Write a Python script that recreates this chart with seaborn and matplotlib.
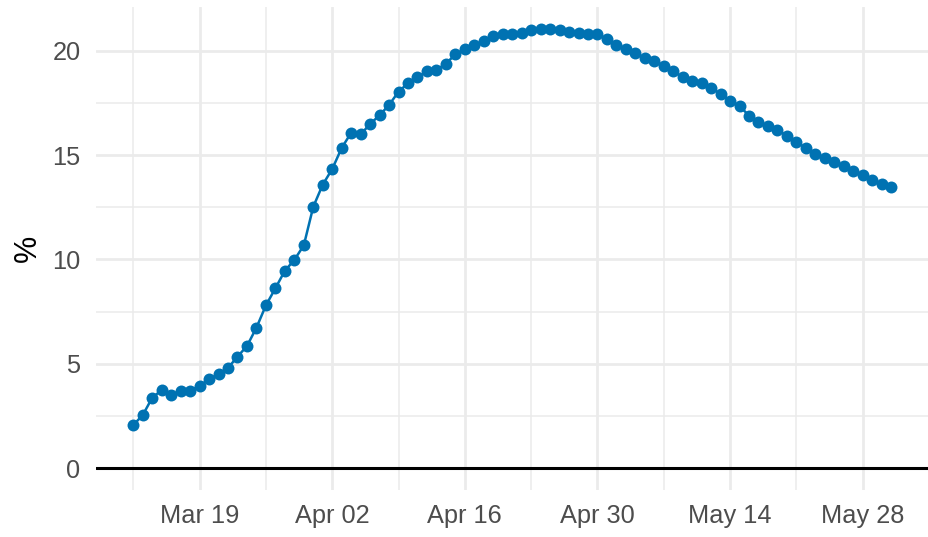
import pandas as pd
import seaborn as sns
import matplotlib.pyplot as plt
import matplotlib.dates as mdates
from matplotlib.ticker import MultipleLocator

# daily share (%), Mar 12 - May 31
start_date = "2020-03-12"
end_date = "2020-05-31"
mar_values = [2.06, 2.54, 3.37, 3.74, 3.49, 3.71, 3.71, 3.95, 4.25, 4.51,
              4.80, 5.34, 5.85, 6.73, 7.80, 8.62, 9.46, 9.98, 10.68, 12.53]
apr_values = [13.59, 14.34, 15.35, 16.08, 16.00, 16.50, 16.92, 17.41, 18.05, 18.45,
              18.73, 19.04, 19.09, 19.39, 19.84, 20.08, 20.27, 20.49, 20.72, 20.80,
              20.82, 20.88, 21.01, 21.06, 21.07, 21.02, 20.91, 20.85, 20.80, 20.80]
may_values = [20.57, 20.29, 20.08, 19.89, 19.66, 19.54, 19.28, 19.03, 18.75, 18.58,
              18.45, 18.24, 17.94, 17.62, 17.36, 16.90, 16.59, 16.42, 16.21, 15.94,
              15.62, 15.36, 15.04, 14.85, 14.66, 14.48, 14.24, 14.04, 13.81, 13.62, 13.48]
y_ticks = [0, 5, 10, 15, 20]
x_tick_start = "2020-03-19"

df = pd.DataFrame({
    "date": pd.date_range(start_date, end_date),
    "value": mar_values + apr_values + may_values,
})

sns.set_theme(style="white")
plt.rcParams['font.family'] = ['Liberation Sans', 'DejaVu Sans']

fig = plt.figure(figsize=(9.29, 5.37), dpi=100)
ax = fig.add_axes([95.7 / 929, 47 / 537, 833.3 / 929, 483 / 537])

grid_col = "#ebebeb"
ax.grid(which="major", color=grid_col, linewidth=2.0, zorder=0)
ax.grid(which="minor", color=grid_col, linewidth=1.1, zorder=0)
ax.set_axisbelow(True)

# zero reference line
ax.axhline(0, color="black", linewidth=2.2, zorder=1)

sns.lineplot(data=df, x="date", y="value", ax=ax, color="#0072B2",
             linewidth=1.8, marker="o", markersize=8.6, markeredgewidth=0,
             zorder=3)

ax.set_xlim(pd.Timestamp("2020-03-08 00:45"), pd.Timestamp("2020-06-03 06:00"))
ax.set_ylim(-1.055, 22.11)

major_dates = pd.date_range(x_tick_start, periods=6, freq="14D")
minor_dates = pd.date_range(start_date, periods=13, freq="7D")
ax.set_xticks(mdates.date2num(major_dates))
ax.set_xticks(mdates.date2num(minor_dates), minor=True)
ax.xaxis.set_major_formatter(mdates.DateFormatter("%b %d"))
ax.set_yticks(y_ticks)
ax.yaxis.set_minor_locator(MultipleLocator(2.5))

ax.tick_params(axis="both", which="both", length=0, labelsize=18.3,
               labelcolor="#4d4d4d")
ax.tick_params(axis="x", pad=10)
ax.tick_params(axis="y", pad=11)

ax.set_xlabel("")
ax.set_ylabel("%", fontsize=22, color="black", labelpad=7)

for s in ax.spines.values():
    s.set_visible(False)

fig.savefig("out.png", dpi=100)
